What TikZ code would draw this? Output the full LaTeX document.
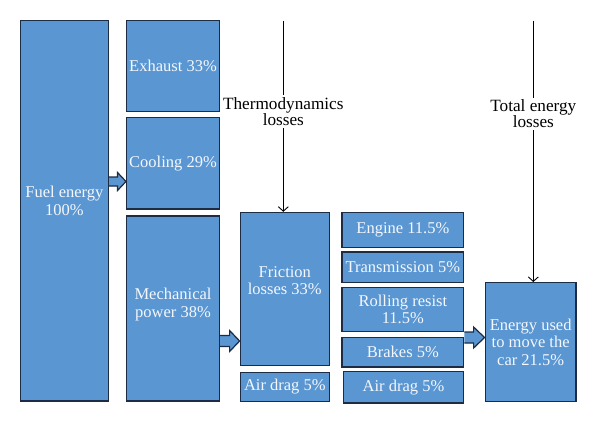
\documentclass[tikz,border=0pt]{standalone}
\usepackage{fontspec}
\setmainfont{Liberation Serif}
\usetikzlibrary{calc,arrows.meta}
\definecolor{boxfill}{HTML}{5A96D2}
\definecolor{boxline}{HTML}{1C2C44}
\definecolor{boxtext}{HTML}{F4F7FB}
\tikzset{
  box/.style={draw=boxline, line width=1.4pt, fill=boxfill, rectangle, inner sep=0pt,
    text=boxtext, align=center, font=\fontsize{16.5}{17.5}\selectfont},
  boxlabel/.style={text=boxtext, align=center, font=\fontsize{16.5}{17.5}\selectfont, inner sep=0pt},
  barrow/.style={draw=boxline, line width=1.2pt, fill=boxfill, line join=miter},
  lossarrow/.style={draw=black, line width=0.9pt, -{Straight Barb[length=4.5pt,width=10pt]}},
  losstext/.style={align=center, font=\fontsize{17.2}{16}\selectfont, inner sep=2pt, text=black}
}
\newcommand\blockarrow[6]{% from, to, y, shaft half, head half, head length
  \coordinate (s) at (#1.east |- 0,#3);
  \coordinate (t) at (#2.west |- 0,#3);
  \filldraw[barrow] ($(s)+(0,-#4)$) -- ($(t)+(-#6,-#4)$) -- ($(t)+(-#6,-#5)$) -- (t)
     -- ($(t)+(-#6,#5)$) -- ($(t)+(-#6,#4)$) -- ($(s)+(0,#4)$);
}
\begin{document}
\begin{tikzpicture}[x=1pt,y=-1pt]
\useasboundingbox[fill=white] (0,0) rectangle (600,424);
% boxes
\node[box, minimum width=87.8pt, minimum height=380.3pt,
  label={[boxlabel, yshift=10pt]center:Fuel energy\\100\%}] (fuel) at (64.4,210.85) {};
\node[box, minimum width=92.6pt, minimum height=90.6pt] (exhaust) at (173,66) {Exhaust 33\%};
\node[box, minimum width=92.6pt, minimum height=91.7pt] (cooling) at (173,163.15) {Cooling 29\%};
\node[box, minimum width=92.6pt, minimum height=185pt,
  label={[boxlabel, yshift=4pt]center:Mechanical\\power 38\%}] (mech) at (173,308.5) {};
\node[box, minimum width=89pt, minimum height=153.2pt,
  label={[boxlabel, yshift=8.5pt]center:Friction\\losses 33\%}] (friction) at (284.8,289.1) {};
\node[box, minimum width=89pt, minimum height=28.6pt] (airdragA) at (284.8,387) {Air drag 5\%};
\node[box, minimum width=121.7pt, minimum height=35.4pt] (engine) at (402.85,230) {Engine 11.5\%};
\node[box, minimum width=121.7pt, minimum height=30.3pt] (trans) at (402.85,267.15) {Transmission 5\%};
\node[box, minimum width=121.7pt, minimum height=44.4pt] (rolling) at (402.85,309.5) {Rolling resist\\11.5\%};
\node[box, minimum width=121.7pt, minimum height=29.3pt] (brakes) at (402.85,352.35) {Brakes 5\%};
\node[box, minimum width=120.4pt, minimum height=31.7pt] (airdragB) at (403.5,387.15) {Air drag 5\%};
\node[box, minimum width=90.7pt, minimum height=118.6pt] (energy) at (530.65,342) {Energy used\\to move the\\car 21.5\%};
% block arrows
\blockarrow{fuel}{cooling}{181.5}{4.5}{9}{8.5}
\blockarrow{mech}{friction}{341}{5.5}{10.5}{10}
\blockarrow{brakes}{energy}{337.5}{5.5}{10.5}{11}
% loss labels and arrows
\coordinate (thtop) at (283.3,20.7);
\node[losstext] (thermo) at (283.3,111.5) {Thermodynamics\\losses};
\draw[line width=0.9pt] (thtop) -- (thermo.north -| thtop);
\draw[lossarrow] (thermo.south -| thtop) -- (thtop |- friction.north);
\coordinate (tltop) at (533.3,20.7);
\node[losstext] (total) at (533.3,114) {Total energy\\losses};
\draw[line width=0.9pt] (tltop) -- (total.north -| tltop);
\draw[lossarrow] (total.south -| tltop) -- (tltop |- energy.north);
\end{tikzpicture}
\end{document}
